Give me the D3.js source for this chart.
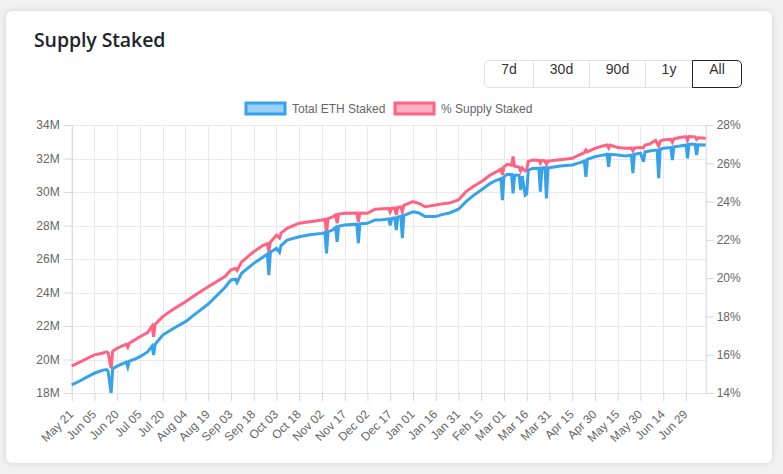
<!DOCTYPE html>
<html>
<head>
<meta charset="utf-8">
<script src="https://cdn.jsdelivr.net/npm/d3@7"></script>
<style>
  html, body { margin: 0; padding: 0; width: 783px; height: 474px; overflow: hidden; background: #f2f2f2; }
  .card { position: absolute; left: 6px; top: 11px; width: 766px; height: 452px; background: #fff;
          border-radius: 6px; box-shadow: 0 0 7px rgba(0,0,0,0.13); }
  .title { position: absolute; left: 34px; top: 26px; font: 600 19.5px "Open Sans", sans-serif; color: #212529; letter-spacing: -0.1px; }
  .btns { position: absolute; left: 484px; top: 60px; display: flex; }
  .btns div { box-sizing: border-box; height: 28px; line-height: 26px; text-align: center; border: 1px solid #dee2e6;
              margin-left: -1px; font: 14px "Liberation Sans", Arial, sans-serif; color: #333; background: #fff; position: relative; }
  .btns div:first-child { margin-left: 0; border-radius: 5px 0 0 5px; }
  .btns div:last-child { border-radius: 0 5px 5px 0; }
  .btns div.active { border-color: #212529; z-index: 2; }
  svg { position: absolute; left: 0; top: 0; }
  .axis text { font-family: "Liberation Sans", Arial, sans-serif; font-size: 12px; fill: #666; }
  .axis line, .axis path { stroke: #d6d6d6; }
</style>
</head>
<body>
<div class="card"></div>
<div class="title">Supply Staked</div>
<div class="btns"></div>
<svg id="chart" width="783" height="474"></svg>
<script>
(function () {
  // range buttons
  var ranges = ["7d", "30d", "90d", "1y", "All"];
  var rangeWidths = [50, 57, 57, 48, 50];

  // daily readings (date, total ETH staked in millions, % of supply staked)
  var dates = [
    "2023-05-21","2023-05-26","2023-05-31","2023-06-05","2023-06-10","2023-06-13","2023-06-14","2023-06-16","2023-06-17","2023-06-20",
    "2023-06-26","2023-06-27","2023-06-28","2023-07-01","2023-07-05","2023-07-10","2023-07-13","2023-07-14","2023-07-15","2023-07-20",
    "2023-07-27","2023-08-04","2023-08-11","2023-08-19","2023-08-30","2023-09-03","2023-09-06","2023-09-07","2023-09-10","2023-09-18",
    "2023-09-24","2023-09-27","2023-09-28","2023-09-29","2023-10-03","2023-10-05","2023-10-06","2023-10-10","2023-10-18","2023-10-25",
    "2023-11-02","2023-11-04","2023-11-05","2023-11-06","2023-11-09","2023-11-11","2023-11-12","2023-11-13","2023-11-17","2023-11-25",
    "2023-11-26","2023-11-27","2023-12-02","2023-12-07","2023-12-12","2023-12-16","2023-12-17","2023-12-18","2023-12-20","2023-12-21",
    "2023-12-22","2023-12-24","2023-12-25","2023-12-26","2024-01-01","2024-01-05","2024-01-09","2024-01-16","2024-01-20","2024-01-25",
    "2024-01-31","2024-02-05","2024-02-10","2024-02-15","2024-02-21","2024-02-25","2024-02-28","2024-02-29","2024-03-01","2024-03-03",
    "2024-03-06","2024-03-07","2024-03-08","2024-03-11","2024-03-12","2024-03-13","2024-03-15","2024-03-16","2024-03-17","2024-03-20",
    "2024-03-24","2024-03-25","2024-03-26","2024-03-28","2024-03-29","2024-03-30","2024-03-31","2024-04-07","2024-04-15","2024-04-20",
    "2024-04-23","2024-04-24","2024-04-25","2024-04-30","2024-05-05","2024-05-08","2024-05-09","2024-05-10","2024-05-15","2024-05-20",
    "2024-05-24","2024-05-25","2024-05-26","2024-05-30","2024-06-01","2024-06-02","2024-06-05","2024-06-09","2024-06-10","2024-06-11",
    "2024-06-12","2024-06-14","2024-06-19","2024-06-20","2024-06-21","2024-06-25","2024-06-29","2024-06-30","2024-07-01","2024-07-05",
    "2024-07-06","2024-07-07","2024-07-12"
  ];
  var totalStaked = [
    18.48,18.70,18.95,19.18,19.35,19.40,19.30,18.00,19.45,19.60,
    19.85,19.55,19.90,20.00,20.17,20.45,20.80,20.27,20.90,21.46,
    21.85,22.26,22.75,23.31,24.30,24.75,24.80,24.60,25.15,25.74,
    26.10,26.30,25.04,26.40,26.64,26.40,26.80,27.13,27.33,27.45,
    27.53,27.58,26.34,27.62,27.73,27.88,27.03,27.95,28.03,28.08,
    26.94,28.10,28.13,28.33,28.35,28.40,28.00,28.43,28.45,27.73,
    28.50,28.55,27.24,28.60,28.82,28.75,28.53,28.53,28.65,28.75,
    28.97,29.42,29.80,30.12,30.52,30.70,30.80,29.52,30.91,31.05,
    31.05,29.92,31.00,31.00,30.12,30.95,29.82,29.90,31.30,31.41,
    31.42,30.02,31.43,31.44,29.62,31.45,31.45,31.55,31.61,31.75,
    31.85,30.91,31.95,32.11,32.20,32.25,31.51,32.25,32.21,32.15,
    32.20,31.12,32.25,32.31,31.81,32.40,32.45,32.50,32.50,30.82,
    32.55,32.61,32.65,31.91,32.70,32.75,32.81,32.01,32.85,32.85,
    32.21,32.82,32.81
  ];
  var pctStaked = [
    15.41,15.60,15.80,15.99,16.08,16.15,16.10,15.29,16.18,16.34,
    16.55,16.40,16.60,16.75,16.94,17.15,17.50,16.94,17.58,17.99,
    18.38,18.77,19.15,19.55,20.08,20.43,20.50,20.40,20.85,21.38,
    21.70,21.80,21.38,21.88,22.25,22.10,22.35,22.60,22.87,22.95,
    23.04,23.08,22.34,23.10,23.20,23.30,22.87,23.35,23.39,23.40,
    22.95,23.40,23.39,23.60,23.62,23.63,23.45,23.65,23.66,23.30,
    23.70,23.72,23.45,23.80,24.00,23.90,23.73,23.82,23.88,23.92,
    24.08,24.52,24.80,25.04,25.39,25.55,25.70,25.40,25.82,25.95,
    25.90,26.35,25.85,25.80,25.60,25.75,25.60,25.65,26.10,26.17,
    26.15,26.00,26.15,26.13,25.95,26.12,26.12,26.18,26.26,26.45,
    26.55,26.70,26.60,26.78,26.90,26.96,26.80,26.95,26.82,26.78,
    26.80,26.65,26.80,26.82,26.80,26.95,27.00,27.20,27.05,26.90,
    27.15,27.22,27.25,27.10,27.28,27.35,27.39,27.20,27.40,27.38,
    27.25,27.33,27.31
  ];

  var xTickDates = [
    "2023-05-21","2023-06-05","2023-06-20","2023-07-05","2023-07-20","2023-08-04","2023-08-19","2023-09-03",
    "2023-09-18","2023-10-03","2023-10-18","2023-11-02","2023-11-17","2023-12-02","2023-12-17","2024-01-01",
    "2024-01-16","2024-01-31","2024-02-15","2024-03-01","2024-03-16","2024-03-31","2024-04-15","2024-04-30",
    "2024-05-15","2024-05-30","2024-06-14","2024-06-29"
  ];
  var leftTicks = [18, 20, 22, 24, 26, 28, 30, 32, 34];
  var rightTicks = [14, 16, 18, 20, 22, 24, 26, 28];

  var seriesNames = ["Total ETH Staked", "% Supply Staked"];
  var seriesColors = ["rgb(54,162,235)", "rgb(255,99,132)"];
  var seriesFills = ["rgba(54,162,235,0.5)", "rgba(255,99,132,0.5)"];

  var parse = d3.utcParse("%Y-%m-%d");
  var left = 71.7, right = 705.7, top = 125, bottom = 393;

  // buttons
  d3.select(".btns").selectAll("div")
    .data(ranges)
    .join("div")
    .classed("active", function (d) { return d === "All"; })
    .style("width", function (d, i) { return rangeWidths[i] + "px"; })
    .text(function (d) { return d; });

  var svg = d3.select("#chart");

  var x = d3.scaleUtc()
    .domain([parse(dates[0]), parse(dates[dates.length - 1])])
    .range([left, right]);
  var yL = d3.scaleLinear().domain([18, 34]).range([bottom, top]);
  var yR = d3.scaleLinear().domain([14, 28]).range([bottom, top]);

  var tickDates = xTickDates.map(parse);

  // grid
  var grid = svg.append("g").attr("stroke", "#e9e9e9").attr("stroke-width", 1);
  grid.selectAll(".h").data(leftTicks).join("line")
    .attr("x1", left).attr("x2", right)
    .attr("y1", function (d) { return Math.round(yL(d)) + 0.5; })
    .attr("y2", function (d) { return Math.round(yL(d)) + 0.5; });
  grid.selectAll(".v").data(tickDates).join("line")
    .attr("y1", top).attr("y2", bottom)
    .attr("x1", function (d) { return Math.round(x(d)) + 0.5; })
    .attr("x2", function (d) { return Math.round(x(d)) + 0.5; });

  // axes
  svg.append("g").attr("class", "axis")
    .attr("transform", "translate(" + left + ",0)")
    .call(d3.axisLeft(yL).tickValues(leftTicks).tickFormat(function (d) { return d + "M"; })
      .tickSizeInner(8).tickSizeOuter(0).tickPadding(4));

  svg.append("g").attr("class", "axis")
    .attr("transform", "translate(" + right + ",0)")
    .call(d3.axisRight(yR).tickValues(rightTicks).tickFormat(function (d) { return d + "%"; })
      .tickSizeInner(8).tickSizeOuter(0).tickPadding(3));

  var xAxis = svg.append("g").attr("class", "axis")
    .attr("transform", "translate(0," + bottom + ")")
    .call(d3.axisBottom(x).tickValues(tickDates).tickFormat(d3.utcFormat("%b %d"))
      .tickSizeInner(8).tickSizeOuter(0));
  xAxis.select(".domain").remove();
  xAxis.selectAll("text")
    .attr("text-anchor", "end")
    .attr("y", 0).attr("dy", "0.35em")
    .attr("transform", "translate(-1,19) rotate(-45)");

  // lines (first dataset drawn on top)
  var pts = dates.map(function (d, i) { return { date: parse(d), v: totalStaked[i], p: pctStaked[i] }; });

  svg.append("path")
    .datum(pts)
    .attr("fill", "none")
    .attr("stroke", seriesColors[1])
    .attr("stroke-width", 3)
    .attr("d", d3.line().x(function (d) { return x(d.date); }).y(function (d) { return yR(d.p); }));

  svg.append("path")
    .datum(pts)
    .attr("fill", "none")
    .attr("stroke", seriesColors[0])
    .attr("stroke-width", 3)
    .attr("d", d3.line().x(function (d) { return x(d.date); }).y(function (d) { return yL(d.v); }));

  // legend
  var legendX = [246, 395];
  var legend = svg.append("g");
  seriesNames.forEach(function (name, i) {
    legend.append("rect")
      .attr("x", legendX[i]).attr("y", 103)
      .attr("width", 39).attr("height", 11)
      .attr("fill", seriesFills[i]).attr("stroke", seriesColors[i]).attr("stroke-width", 3);
    legend.append("text")
      .attr("x", legendX[i] + 46).attr("y", 108.5).attr("dy", "0.35em")
      .attr("font-family", "Liberation Sans, Arial, sans-serif")
      .attr("font-size", 12).attr("fill", "#666")
      .text(name);
  });
})();
</script>
</body>
</html>
